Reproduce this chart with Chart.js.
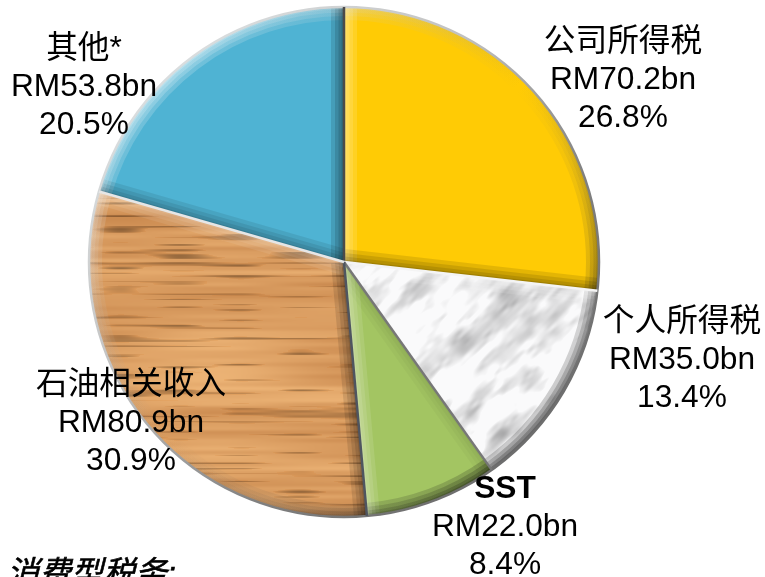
<!DOCTYPE html>
<html>
<head>
<meta charset="utf-8">
<script src="https://cdn.jsdelivr.net/npm/chart.js@4/dist/chart.umd.min.js"></script>
<style>
  html, body { margin: 0; padding: 0; background: #fff; overflow: hidden; }
  #wrap { position: relative; width: 765px; height: 577px; overflow: hidden; }
  canvas { position: absolute; left: 0; top: 0; }
  .lbl {
    position: absolute; transform: translateX(-50%); text-align: center; white-space: nowrap;
    font: 31.7px/38px "Liberation Sans", "Noto Sans CJK SC", sans-serif; color: #000;
  }
  .lbl b { font-weight: bold; }
  #note {
    position: absolute; left: 7px; top: 553px; white-space: nowrap;
    font: italic 32px/40px "Liberation Sans", "Noto Sans CJK SC", sans-serif; color: #000;
    -webkit-text-stroke: 0.6px #000;
  }
</style>
</head>
<body>
<div id="wrap">
  <canvas id="grafico" width="765" height="577"></canvas>
  <div id="note">消费型税务:</div>
</div>
<script>
const categorias = ["公司所得税", "个人所得税", "SST", "石油相关收入", "其他*"];
const valores = [70.2, 35.0, 22.0, 80.9, 53.8];
const percentuais = ["26.8%", "13.4%", "8.4%", "30.9%", "20.5%"];

// label centre x / top y, same order as categorias
const labelX = [623, 682, 505, 131, 84];
const labelY = [21, 301, 468, 364, 28];

// line drawn on the starting edge of each slice
const corDivisor = ['#4a4a4a', '#f4f4f4', '#777777', '#4f5560', '#e6e6e6'];

function ruido(x, y) {
  const s = Math.sin(x * 127.1 + y * 311.7) * 43758.5453;
  return s - Math.floor(s);
}
function ruidoSuave(x, y) {
  const xi = Math.floor(x), yi = Math.floor(y);
  let fx = x - xi, fy = y - yi;
  fx = fx * fx * (3 - 2 * fx);
  fy = fy * fy * (3 - 2 * fy);
  const a = ruido(xi, yi), b = ruido(xi + 1, yi), c = ruido(xi, yi + 1), d = ruido(xi + 1, yi + 1);
  return a + (b - a) * fx + (c - a) * fy + (a - b - c + d) * fx * fy;
}

function textura(pixel) {
  const c = document.createElement('canvas');
  c.width = 765; c.height = 577;
  const g = c.getContext('2d');
  const img = g.createImageData(765, 577);
  for (let y = 0; y < 577; y++) {
    for (let x = 0; x < 765; x++) {
      const p = pixel(x, y), i = (y * 765 + x) * 4;
      img.data[i] = p[0]; img.data[i + 1] = p[1]; img.data[i + 2] = p[2]; img.data[i + 3] = 255;
    }
  }
  g.putImageData(img, 0, 0);
  return c;
}

function madeira(x, y) {
  const faixa = ruidoSuave(x / 110, y / 4);
  const larga = ruidoSuave(x / 200 + 7, y / 18);
  const risco = ruidoSuave(x / 60 + 3, y / 2.6);
  const t = 0.6 * larga + 0.4 * faixa;
  let r = 196 + 44 * t, gr = 130 + 54 * t, b = 72 + 50 * t;
  if (risco > 0.68) {
    const k = 1 - (risco - 0.68) * 1.05;
    r *= k; gr *= k * 0.97; b *= k * 0.92;
  }
  return [r, gr, b];
}

function marmore(x, y) {
  const u = (x + y) / 26, v = (x - y) / 70;
  const n = 0.5 * ruidoSuave(u, v) + 0.32 * ruidoSuave(u * 2.3 + 5, v * 2.3 + 9) + 0.18 * ruidoSuave(u * 5 + 2, v * 5 + 1);
  const d = Math.max(0, n - 0.44) * 170;
  const cinza = 250 - d;
  return [cinza, cinza, cinza + 1];
}

const ctx = document.getElementById('grafico').getContext('2d');
const corMadeira = ctx.createPattern(textura(madeira), 'no-repeat');
const corMarmore = ctx.createPattern(textura(marmore), 'no-repeat');
const cores = ['#ffcb05', corMarmore, '#a3c562', corMadeira, '#4fb3d3'];

function caminhoFatia(c, a) {
  c.beginPath();
  c.moveTo(a.x, a.y);
  c.arc(a.x, a.y, a.outerRadius, a.startAngle, a.endAngle);
  c.closePath();
}

// outward normal of a radial edge against light from the top left
function tomAresta(angulo, lado) {
  const nx = -Math.sin(angulo) * lado, ny = Math.cos(angulo) * lado;
  return (nx * -0.707 + ny * -0.707);
}

function arestaRadial(c, a, angulo, lado, w) {
  const tom = tomAresta(angulo, lado);
  const alfa = Math.abs(tom) * 0.17;
  c.strokeStyle = tom > 0 ? 'rgba(255,255,255,' + alfa + ')' : 'rgba(0,0,0,' + alfa + ')';
  c.lineWidth = w;
  c.beginPath();
  c.moveTo(a.x, a.y);
  c.lineTo(a.x + Math.cos(angulo) * a.outerRadius, a.y + Math.sin(angulo) * a.outerRadius);
  c.stroke();
}

const chanfro = {
  id: 'chanfro',
  afterDatasetDraw(chart) {
    const c = chart.ctx;
    const arcos = chart.getDatasetMeta(0).data;
    const a0 = arcos[0], R = a0.outerRadius;
    const luz = c.createLinearGradient(a0.x - R * 0.7, a0.y - R * 0.7, a0.x + R * 0.7, a0.y + R * 0.7);
    luz.addColorStop(0, 'rgba(255,255,255,0.20)');
    luz.addColorStop(0.5, 'rgba(128,128,128,0)');
    luz.addColorStop(1, 'rgba(0,0,0,0.20)');
    arcos.forEach(a => {
      c.save();
      caminhoFatia(c, a);
      c.clip();
      [26, 18, 11, 5].forEach(w => {
        c.strokeStyle = luz;
        c.lineWidth = w;
        c.beginPath();
        c.arc(a.x, a.y, a.outerRadius, a.startAngle, a.endAngle);
        c.stroke();
        arestaRadial(c, a, a.startAngle, -1, w);
        arestaRadial(c, a, a.endAngle, 1, w);
      });
      c.restore();
    });

    // rim, then the dividers between slices
    const borda = c.createLinearGradient(a0.x - R, a0.y - R, a0.x + R, a0.y + R);
    borda.addColorStop(0, '#e8eef0');
    borda.addColorStop(0.4, '#c0c0c0');
    borda.addColorStop(0.65, '#808080');
    borda.addColorStop(1, '#606060');
    c.save();
    c.strokeStyle = borda;
    c.lineWidth = 2.5;
    c.beginPath();
    c.arc(a0.x, a0.y, R, 0, Math.PI * 2);
    c.stroke();
    c.lineWidth = 2.5;
    arcos.forEach((a, i) => {
      c.strokeStyle = corDivisor[i];
      c.beginPath();
      c.moveTo(a.x, a.y);
      c.lineTo(a.x + Math.cos(a.startAngle) * R, a.y + Math.sin(a.startAngle) * R);
      c.stroke();
    });
    c.restore();
  }
};

new Chart(ctx, {
  type: 'pie',
  data: {
    labels: categorias,
    datasets: [{
      data: valores,
      backgroundColor: cores,
      borderWidth: 0
    }]
  },
  options: {
    responsive: false,
    animation: false,
    layout: { padding: { left: 89, right: 166, top: 7, bottom: 60 } },
    plugins: {
      legend: { display: false },
      tooltip: { enabled: false }
    }
  },
  plugins: [chanfro]
});

const wrap = document.getElementById('wrap');
categorias.forEach((nome, i) => {
  const d = document.createElement('div');
  d.className = 'lbl';
  d.style.left = labelX[i] + 'px';
  d.style.top = labelY[i] + 'px';
  const titulo = nome === 'SST' ? '<b>SST</b>' : nome;
  d.innerHTML = titulo + '<br>RM' + valores[i].toFixed(1) + 'bn<br>' + percentuais[i];
  wrap.appendChild(d);
});
</script>
</body>
</html>
